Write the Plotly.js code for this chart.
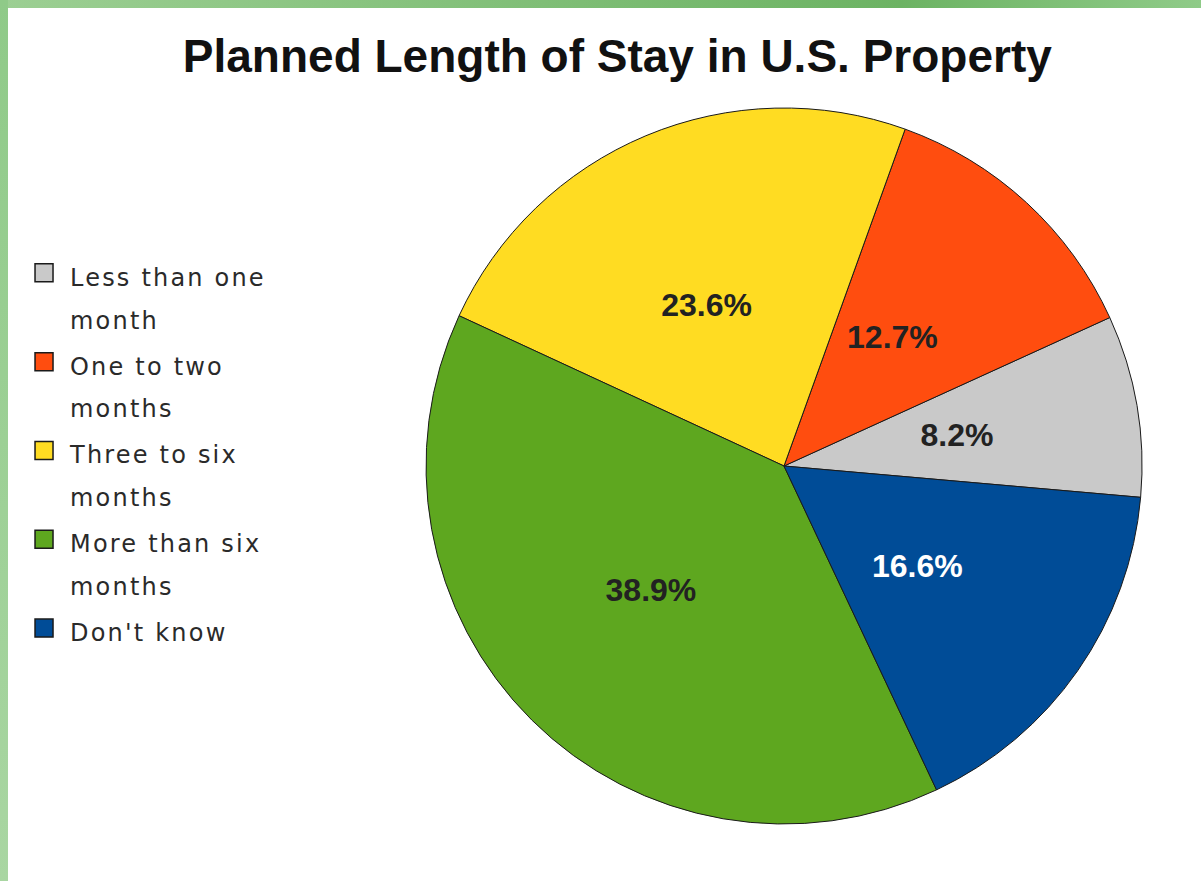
<!DOCTYPE html>
<html>
<head>
<meta charset="utf-8">
<script src="https://cdn.plot.ly/plotly-3.0.1.min.js"></script>
<style>
  body { margin: 0; background: #fff; }
  #wrap { position: relative; width: 1201px; height: 881px; overflow: hidden; }
  #plot { width: 1201px; height: 881px; }
  #topbar { position: absolute; left: 0; top: 0; width: 1201px; height: 8px;
            background: linear-gradient(to right, #9ccf93, #6cb363 75%, #8fcb88); }
  #leftbar { position: absolute; left: 0; top: 0; width: 8px; height: 881px;
             background: linear-gradient(to bottom, #8fca88, #a9d6a2); }
  .legendtext { letter-spacing: 2.2px; }
  .legendpoints path { transform: translate(14px, 0px) scale(1.5); }
</style>
</head>
<body>
<div id="wrap">
  <div id="plot"></div>
  <div id="topbar"></div>
  <div id="leftbar"></div>
</div>
<script>
var labels = ['Less than one month', 'One to two months', 'Three to six months', 'More than six months', "Don't know"];
var legendNames = ['Less than one<br>month', 'One to two<br>months', 'Three to six<br>months', 'More than six<br>months', "Don't know"];
var shares = [8.2, 12.7, 23.6, 38.9, 16.6];
var sliceColors = ['#c9c9c9', '#ff4d0f', '#ffdc22', '#5ea71f', '#004c97'];
var labelColors = ['#222222', '#222222', '#222222', '#222222', '#ffffff'];

var legendLabels = legendNames.map(function (n) { return '<span style="font-size:24px">' + n + '</span>'; });

// main pie: slices + legend
var slices = {
  type: 'pie',
  labels: legendLabels,
  values: shares,
  sort: false,
  direction: 'counterclockwise',
  rotation: 65.5,
  textinfo: 'none',
  marker: {colors: sliceColors, line: {color: '#1a1a1a', width: 1}},
  hoverinfo: 'label+percent',
  domain: {x: [0.3547, 0.9509], y: [0.0647, 0.8774]}
};

// transparent inner ring, only used to carry the % labels at mid radius
var percentLabels = {
  type: 'pie',
  labels: legendLabels,
  values: shares,
  sort: false,
  direction: 'counterclockwise',
  rotation: 65.5,
  hole: 0.5,
  showlegend: false,
  texttemplate: '%{value:.1f}%',
  textposition: 'inside',
  insidetextorientation: 'horizontal',
  insidetextfont: {family: 'Liberation Sans, Arial, sans-serif', size: 32, weight: 'bold', color: labelColors},
  marker: {colors: ['rgba(0,0,0,0)', 'rgba(0,0,0,0)', 'rgba(0,0,0,0)', 'rgba(0,0,0,0)', 'rgba(0,0,0,0)'], line: {width: 0}},
  hoverinfo: 'skip',
  domain: {x: [0.4505, 0.8385], y: [0.2066, 0.7355]}
};

var layout = {
  width: 1201,
  height: 881,
  margin: {l: 0, r: 0, t: 0, b: 0},
  paper_bgcolor: '#ffffff',
  title: {
    text: 'Planned Length of Stay in U.S. Property',
    x: 0.514, xanchor: 'center',
    y: 0.937, yanchor: 'middle',
    font: {family: 'Liberation Sans, Arial, sans-serif', size: 46, weight: 'bold', color: '#111111'}
  },
  showlegend: true,
  legend: {
    x: 0.025, xanchor: 'left',
    y: 0.722, yanchor: 'top',
    valign: 'top',
    traceorder: 'normal',
    font: {family: 'DejaVu Sans, Verdana, sans-serif', size: 33, color: '#2a2a2a'},
    bgcolor: 'rgba(0,0,0,0)'
  }
};

Plotly.newPlot('plot', [slices, percentLabels], layout, {displayModeBar: false, staticPlot: true});
</script>
</body>
</html>
